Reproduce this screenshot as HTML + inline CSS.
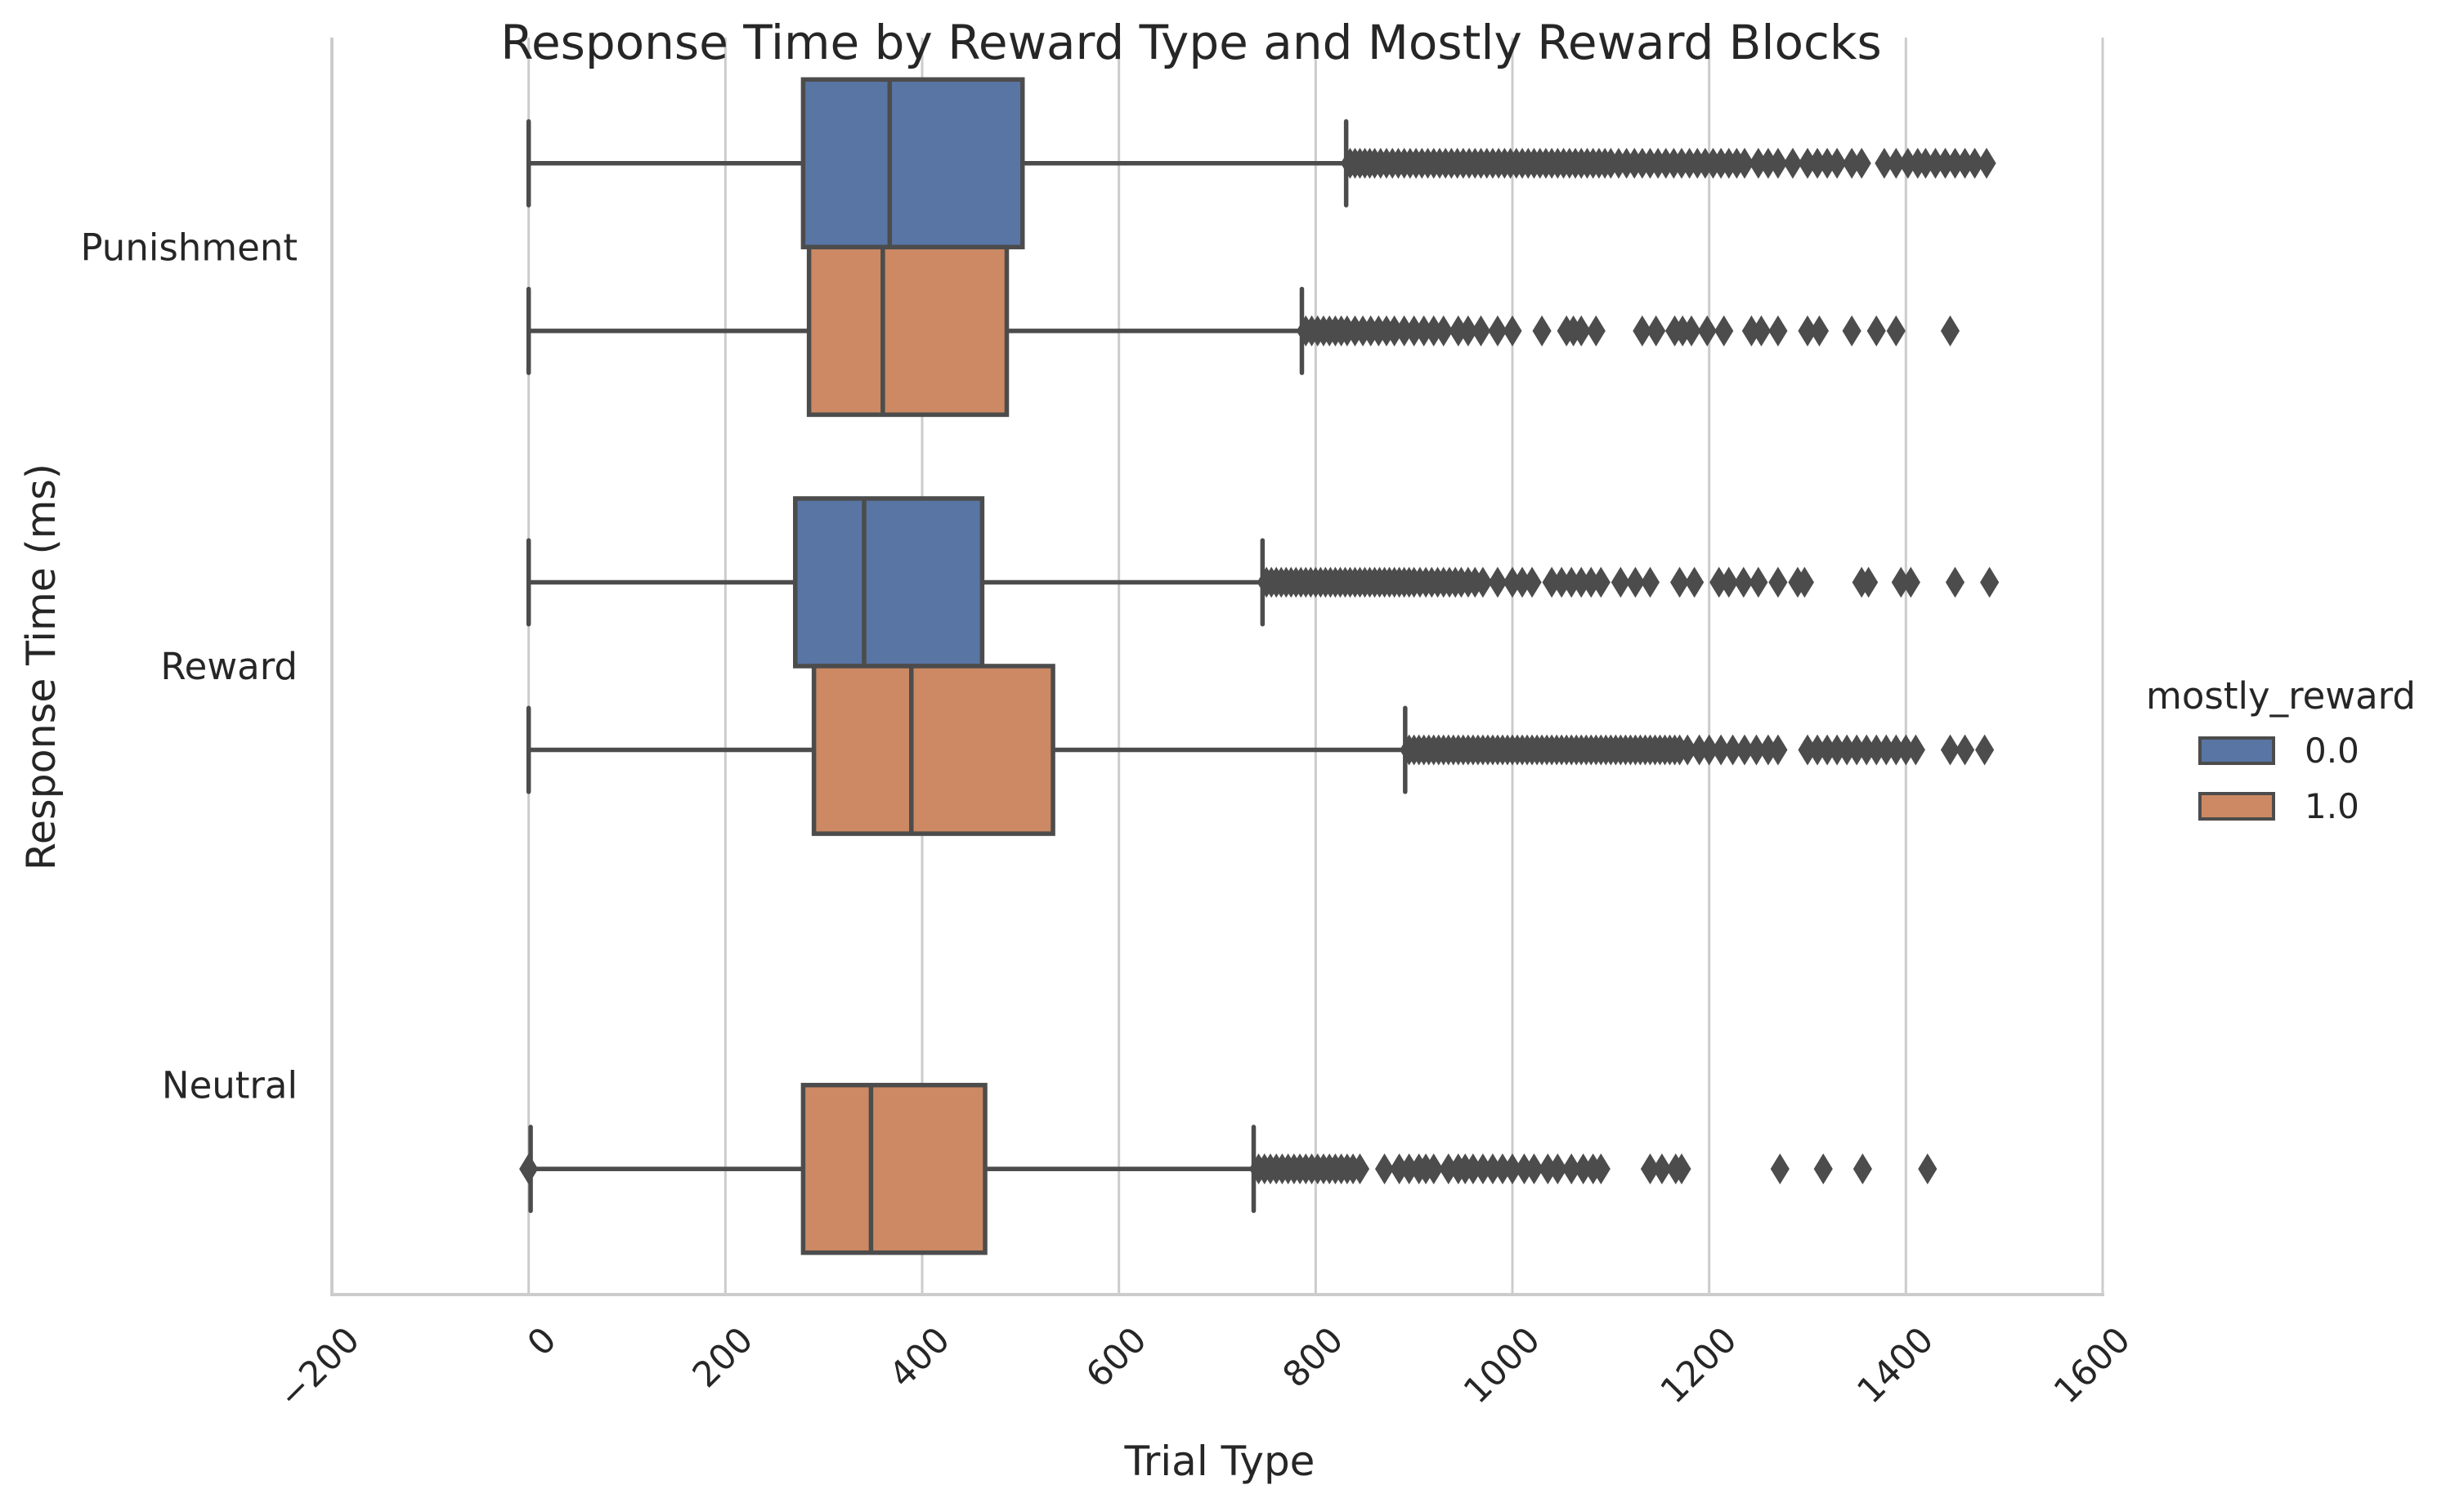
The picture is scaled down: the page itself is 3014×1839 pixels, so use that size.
<!DOCTYPE html>
<html><head><meta charset="utf-8"><style>
html,body{margin:0;padding:0;background:#fff;}
svg{display:block;font-family:"DejaVu Sans","Liberation Sans",sans-serif;}
</style></head><body>
<svg id="chart" width="3014" height="1839" viewBox="0 0 3014 1839" xmlns="http://www.w3.org/2000/svg">
<rect width="3014" height="1839" fill="#fff"/>
<g id="grid"></g>
<g id="marks"></g>
<g id="axes"></g>
<text x="1457" y="72" font-size="58" fill="#262626" text-anchor="middle">Response Time by Reward Type and Mostly Reward Blocks</text>
<text transform="translate(67,816) rotate(-90)" font-size="49" fill="#262626" text-anchor="middle">Response Time (ms)</text>
<text x="1492" y="1805" font-size="50" fill="#262626" text-anchor="middle">Trial Type</text>
<g>
<text x="2790" y="867" font-size="45" fill="#262626" text-anchor="middle">mostly_reward</text>
<rect x="2691" y="903" width="90" height="31" fill="#5875a4" stroke="#4c4c4c" stroke-width="4"/>
<text x="2819" y="933" font-size="42" fill="#262626">0.0</text>
<rect x="2691" y="971" width="90" height="31" fill="#cc8963" stroke="#4c4c4c" stroke-width="4"/>
<text x="2819" y="1001" font-size="42" fill="#262626">1.0</text>
</g>
</svg>
<script>
const categories = ["Punishment","Reward","Neutral"];
const xTicks = [-200,0,200,400,600,800,1000,1200,1400,1600];
const xTickLabels = ["\u2212200","0","200","400","600","800","1000","1200","1400","1600"];
// box stats: [whiskerLow, q1, median, q3, whiskerHigh]
const punishBlue = [0,279,367,502,831];
const punishOrange = [0,285,360,486,786];
const rewardBlue = [0,271,341,461,746];
const rewardOrange = [0,290,389,533,891];
const neutralOrange = [2,279,348,464,737];
const punishBlueFliers = [835,840,845,850,855,860,866,872,878,884,890,896,902,908,914,920,926,932,938,944,950,956,962,968,974,980,986,992,998,1004,1010,1016,1022,1028,1034,1040,1046,1052,1058,1064,1070,1076,1082,1088,1094,1100,1108,1116,1124,1132,1140,1148,1156,1164,1172,1180,1188,1196,1204,1212,1220,1228,1236,1250,1260,1270,1285,1300,1310,1320,1330,1345,1355,1378,1390,1402,1412,1420,1430,1440,1450,1460,1470,1482];
const punishOrangeFliers = [790,796,802,808,814,820,826,832,840,848,856,864,872,880,890,900,910,920,930,945,955,968,985,1000,1030,1055,1062,1070,1085,1132,1146,1165,1173,1182,1198,1215,1243,1253,1270,1300,1312,1345,1370,1390,1445];
const rewardBlueFliers = [750,755,760,765,770,775,780,785,790,795,800,805,810,815,820,825,830,835,840,845,850,855,860,865,870,875,880,885,890,895,900,906,912,918,924,930,936,942,948,955,962,970,985,1000,1010,1020,1040,1050,1060,1070,1080,1090,1110,1125,1140,1170,1185,1210,1220,1235,1250,1270,1290,1297,1355,1362,1395,1405,1450,1485];
const rewardOrangeFliers = [895,900,905,910,915,920,925,930,935,940,945,950,955,960,965,970,975,980,985,990,995,1000,1005,1010,1015,1020,1025,1030,1035,1040,1045,1050,1055,1060,1065,1070,1075,1080,1085,1090,1095,1100,1105,1110,1115,1120,1125,1130,1135,1140,1145,1150,1155,1160,1165,1170,1178,1190,1200,1212,1224,1236,1248,1260,1270,1300,1310,1320,1330,1340,1350,1360,1370,1380,1390,1400,1410,1445,1460,1480];
const neutralOrangeFliers = [0,742,748,754,760,766,772,778,784,790,796,802,808,814,820,826,832,838,845,870,885,895,905,912,920,935,945,952,960,970,980,990,1000,1012,1022,1036,1046,1060,1072,1082,1090,1140,1152,1166,1172,1272,1316,1356,1422];

const NS="http://www.w3.org/2000/svg";
const axL=406, axR=2572, axT=46, axB=1584;
const xMin=-200, xMax=1600;
function xPos(v){return axL+(v-xMin)/(xMax-xMin)*(axR-axL);}
function yPos(c){return axT+(c+0.5)*(axB-axT)/categories.length;}
const band=(axB-axT)/categories.length;
const hueOff=band*0.2, boxH=band*0.4;
function mk(tag,attrs,parent){const e=document.createElementNS(NS,tag);for(const k in attrs)e.setAttribute(k,attrs[k]);parent.appendChild(e);return e;}
const grid=document.getElementById('grid'), marks=document.getElementById('marks'), axes=document.getElementById('axes');
xTicks.forEach((t,i)=>{
  const l=mk('line',{x1:xPos(t),x2:xPos(t),y1:axT,y2:axB,stroke:'#cccccc','stroke-width':3},grid);
  
  
  const x=xPos(t), y=axB+28;
  const tx=mk('text',{transform:`translate(${x+14},${y+8}) rotate(-45)`,'font-size':43,fill:'#262626','text-anchor':'end','dominant-baseline':'hanging'},axes);
  tx.textContent=xTickLabels[i];
  
  
});
const ls=mk('line',{x1:axL,x2:axL,y1:axT,y2:axB,stroke:'#cccccc','stroke-width':4},axes);


const bs=mk('line',{x1:axL-2,x2:axR+2,y1:axB,y2:axB,stroke:'#cccccc','stroke-width':4},axes);


categories.forEach((c,i)=>{
  const t=mk('text',{x:axL-42,y:yPos(i)+16,'font-size':45,fill:'#262626','text-anchor':'end'},axes);
  t.textContent=c;
  
  
});
const EC='#4c4c4c';
function drawBox(stats,fliers,cat,hue,color,name){
  const g=mk('g',{},marks);
  
  
  const cy=yPos(cat)+(hue===0?-hueOff:hueOff);
  const [lo,q1,md,q3,hi]=stats;
  mk('line',{x1:xPos(lo),x2:xPos(q1),y1:cy,y2:cy,stroke:EC,'stroke-width':5.5},g);
  mk('line',{x1:xPos(q3),x2:xPos(hi),y1:cy,y2:cy,stroke:EC,'stroke-width':5.5},g);
  mk('line',{x1:xPos(lo),x2:xPos(lo),y1:cy-boxH/4,y2:cy+boxH/4,stroke:EC,'stroke-width':5.5,'stroke-linecap':'round'},g);
  mk('line',{x1:xPos(hi),x2:xPos(hi),y1:cy-boxH/4,y2:cy+boxH/4,stroke:EC,'stroke-width':5.5,'stroke-linecap':'round'},g);
  mk('rect',{x:xPos(q1),y:cy-boxH/2,width:xPos(q3)-xPos(q1),height:boxH,fill:color,stroke:EC,'stroke-width':5.5},g);
  mk('line',{x1:xPos(md),x2:xPos(md),y1:cy-boxH/2,y2:cy+boxH/2,stroke:EC,'stroke-width':5.5},g);
  fliers.forEach(v=>{
    const x=xPos(v);
    const p=mk('polygon',{points:`${x},${cy-18} ${x+11},${cy} ${x},${cy+18} ${x-11},${cy}`,fill:EC,stroke:EC,'stroke-width':1},g);
    
    
  });
}
drawBox(punishBlue,punishBlueFliers,0,0,'#5875a4','box-punishment-0');
drawBox(punishOrange,punishOrangeFliers,0,1,'#cc8963','box-punishment-1');
drawBox(rewardBlue,rewardBlueFliers,1,0,'#5875a4','box-reward-0');
drawBox(rewardOrange,rewardOrangeFliers,1,1,'#cc8963','box-reward-1');
drawBox(neutralOrange,neutralOrangeFliers,2,1,'#cc8963','box-neutral-1');
</script>
</body></html>
